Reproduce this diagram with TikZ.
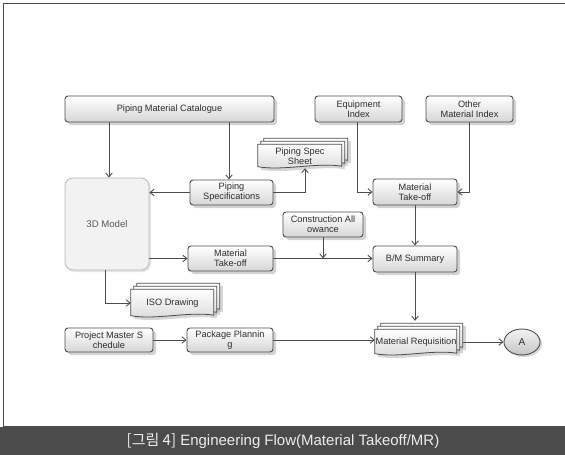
\documentclass[tikz,border=0pt]{standalone}
\usepackage{fontspec}
\setmainfont{Liberation Sans}
\newfontfamily\krfont{Noto Sans CJK KR}
\usetikzlibrary{shadows,backgrounds,arrows.meta,shapes.geometric}
\definecolor{edge}{HTML}{4D4D4D}
\definecolor{txt}{HTML}{2E2E2E}
\definecolor{bar}{HTML}{4B4B4B}
\tikzset{
  box/.style={draw=edge, line width=0.9pt, rounded corners=3pt,
    top color=white, bottom color=gray!32,
    drop shadow={shadow xshift=3pt, shadow yshift=-3pt, fill=gray!70, opacity=0.5},
    text=txt, font=\fontsize{9.2}{10}\selectfont, align=center, inner sep=1pt},
  docnode/.style={text=txt, font=\fontsize{9.2}{10}\selectfont, align=center, inner sep=0pt},
  sheet/.style={draw=edge, line width=0.8pt, top color=white, bottom color=gray!30},
  sheetshadow/.style={fill=gray!70, opacity=0.45},
  conn/.style={draw=edge, line width=0.9pt, -{Straight Barb[length=4pt,width=6.5pt]}},
}
\newcommand\mdoc[3]{%
  \begin{scope}[on background layer]
  \begin{scope}[shift={(#1.south west)}, x=1pt, y=1pt]
    \foreach \k in {6,3,0}{%
      \fill[sheetshadow, shift={(\k+3,\k-3)}] (0,1.5) -- (0,#3) -- (#2,#3) -- (#2,2)
        .. controls ({0.7*(#2)},6) and ({0.3*(#2)},-3) .. (0,1.5) -- cycle;}
    \foreach \k in {6,3,0}{%
      \path[sheet, shift={(\k,\k)}] (0,1.5) -- (0,#3) -- (#2,#3) -- (#2,2)
        .. controls ({0.7*(#2)},6) and ({0.3*(#2)},-3) .. (0,1.5) -- cycle;}
  \end{scope}
  \end{scope}}
\begin{document}
\begin{tikzpicture}[x=1pt, y=-1pt]
\useasboundingbox (0,0) rectangle (565,455);
\begin{scope}[on background layer]
  \fill[white] (0,0) rectangle (565,455);
  \draw[line width=1.3pt, gray!60!black] (3.5,3.5) rectangle (568,427);
\end{scope}
\fill[bar] (0,427) rectangle (565,455);
\node[text=white!93!black, font=\fontsize{15}{16}\selectfont] (cap) at (283,441)
  {{\krfont [그림 4]} Engineering Flow(Material Takeoff/MR)};

% boxes
\node[box, minimum width=209pt, minimum height=26pt] (pmc) at (169.5,109) {Piping Material Catalogue};
\node[box, minimum width=87pt, minimum height=26pt] (eqi) at (358.5,109) {Equipment\\Index};
\node[box, minimum width=87pt, minimum height=26pt] (omi) at (469.5,109) {Other\\Material Index};
\node[box, minimum width=84pt, minimum height=26pt] (mto1) at (415,192) {Material\\Take-off};
\node[box, minimum width=83pt, minimum height=25pt] (psp) at (231.5,192.5) {Piping\\Specifications};
\node[draw=gray!55, line width=0.8pt, rounded corners=8pt, fill=gray!10,
  drop shadow={shadow xshift=2pt, shadow yshift=-2pt, fill=gray!40, opacity=0.5},
  minimum width=84pt, minimum height=92pt, text=gray!70!black,
  font=\fontsize{9.6}{11}\selectfont] (m3d) at (107,224) {3D Model};
\node[box, minimum width=85pt, minimum height=25pt] (mto2) at (230.5,258.5) {Material\\Take-off};
\node[box, minimum width=80pt, minimum height=25pt] (caw) at (323,224.5) {Construction All\\owance};
\node[box, minimum width=84pt, minimum height=26pt] (bms) at (415,259) {B/M Summary};
\node[box, minimum width=88pt, minimum height=24pt] (pms) at (109,340) {Project Master S\\chedule};
\node[box, minimum width=86pt, minimum height=24pt] (pp) at (230,340) {Package Plannin\\g};
\node[ellipse, draw=edge, line width=0.9pt, top color=white!90!gray, bottom color=gray!45,
  drop shadow={shadow xshift=2pt, shadow yshift=-2pt, fill=gray!60, opacity=0.5},
  minimum width=36pt, minimum height=26pt, inner sep=0pt, text=txt,
  font=\fontsize{10}{11}\selectfont] (A) at (522,342) {A};

% multi-documents
\node[docnode, minimum width=84pt, minimum height=24pt] (pss) at (300,156) {Piping Spec\\Sheet};
\mdoc{pss}{84}{24}
\node[docnode, minimum width=83pt, minimum height=28pt] (iso) at (172.5,303) {ISO Drawing};
\mdoc{iso}{83}{28}
\node[docnode, minimum width=82pt, minimum height=26pt] (mr) at (416,342) {Material Requisition};
\mdoc{mr}{82}{26}
\coordinate (mrtop) at ([yshift=8pt]mr.north);

% connectors
\draw[conn] ([xshift=2pt]m3d.north |- pmc.south) -- ([xshift=2pt]m3d.north);
\draw[conn] ([xshift=-2.5pt]psp.north |- pmc.south) -- ([xshift=-2.5pt]psp.north);
\draw[conn] (psp.west) -- (psp.west -| m3d.east);
\draw[conn] (psp.east) -| ([xshift=5pt]pss.south);
\draw[conn] ([xshift=-1.5pt]eqi.south) |- (mto1.west);
\draw[conn] (omi.south) |- (mto1.east);
\draw[conn] (mto1.south) -- (bms.north);
\draw[conn] (m3d.east |- mto2.west) -- (mto2.west);
\draw[conn] (mto2.east) -- (mto2.east -| bms.west);
\draw[conn] (caw.south) -- (caw.south |- mto2.east);
\draw[conn] ([xshift=-2pt]m3d.south) |- (iso.west);
\draw[conn] (bms.south) -- (bms.south |- mrtop);
\draw[conn] (pms.east) -- (pp.west);
\draw[conn] (pp.east) -- (pp.east -| mr.west);
\draw[conn] ([xshift=6pt]mr.east) -- (A.west);
\end{tikzpicture}
\end{document}
